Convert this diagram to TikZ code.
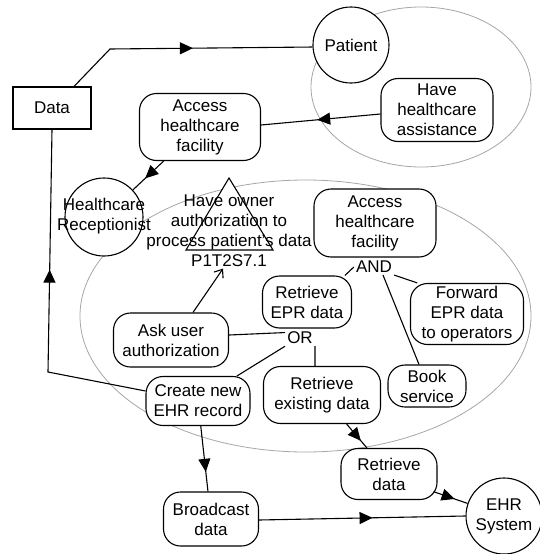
\documentclass[tikz,border=0pt]{standalone}
\usepackage{fontspec}
\setmainfont{Liberation Sans}
\usetikzlibrary{arrows.meta, decorations.markings, shapes.geometric, calc}

\tikzset{
  lbl/.style={font=\fontsize{17}{20}\selectfont, align=center},
  box/.style={draw, line width=1.1pt, fill=white, rounded corners=17pt, inner sep=0pt, lbl},
  rect/.style={draw, line width=1.1pt, fill=white, inner sep=0pt, lbl},
  actor/.style={draw, circle, line width=1.1pt, fill=white, inner sep=0pt, minimum size=76pt, lbl},
  group/.style={draw=black!35, line width=0.8pt, ellipse, inner sep=0pt},
  link/.style={line width=1.1pt},
  midarrow/.style={postaction={decorate}, decoration={markings,
      mark=at position #1 with {\arrow{Triangle[length=13pt,width=12pt]}}}},
}

\begin{document}
\begin{tikzpicture}[x=1pt, y=-1pt]
\useasboundingbox (0,0) rectangle (540,554);

% boundaries of the two actors
\node[group, minimum width=220pt, minimum height=160pt] (zone1) at (421,87) {};
\node[group, minimum width=451pt, minimum height=272pt] (zone2) at (305.5,316) {};

% resource, actors and goals
\node[rect, minimum width=78pt, minimum height=42pt] (data) at (52,108) {Data};
\node[actor] (patient) at (351,45) {Patient};
\node[box, minimum width=112pt, minimum height=63pt] (hha) at (437,110) {Have\\healthcare\\assistance};
\node[box, minimum width=121pt, minimum height=67pt] (ahf1) at (200,127) {Access\\healthcare\\facility};
\node[actor, minimum size=78pt] (recep) at (104,217) {};
\node[lbl] (recepT) at (104,216) {Healthcare\\Receptionist};

% softgoal triangle with its label
\draw[link, fill=white] (229,178) -- (273,250) -- (186,250) -- cycle;
\node[lbl, inner sep=2pt] (goal) at (229,230.5) {Have owner\\authorization to\\process patient's data\\P1T2S7.1};

\node[box, minimum width=122pt, minimum height=68pt] (ahf2) at (375,223) {Access\\healthcare\\facility};
\node[lbl, inner sep=2pt] (and) at (374,267) {AND};
\node[box, minimum width=89pt, minimum height=52pt] (epr) at (307,302) {Retrieve\\EPR data};
\node[box, minimum width=113pt, minimum height=61pt] (fwd) at (467,314) {Forward\\EPR data\\to operators};
\node[box, minimum width=115pt, minimum height=54pt] (ask) at (171,340) {Ask user\\authorization};
\node[lbl, inner sep=2pt] (or) at (300,338) {OR};
\node[box, minimum width=104pt, minimum height=49pt] (create) at (198,401) {Create new\\EHR record};
\node[box, minimum width=117pt, minimum height=57pt] (existing) at (322,395) {Retrieve\\existing data};
\node[box, minimum width=78pt, minimum height=42pt] (book) at (427,386) {Book\\service};
\node[box, minimum width=96pt, minimum height=51pt] (retr) at (389,474) {Retrieve\\data};
\node[box, minimum width=95pt, minimum height=54pt] (broad) at (211,519) {Broadcast\\data};
\node[actor] (ehr) at (504,516) {EHR\\System};

% bends of routed connectors
\coordinate (bend1) at (110,49);
\coordinate (bend2) at (48,372);

% dependencies
\draw[link, midarrow=0.53] ([xshift=22pt]data.north) -- (bend1) -- (patient.183);
\draw[link, midarrow=0.53] ([yshift=-4pt]hha.west) -- ([yshift=2pt]ahf1.east);
\draw[link, midarrow=0.6] (ahf1) -- (recep);
\draw[link, midarrow=0.59] ([yshift=10pt]create.west) -- (bend2) -- (data.south);
\draw[link, midarrow=0.7] (existing) -- (retr);
\draw[link, midarrow=0.62] ([xshift=-4pt]retr.-20) -- (ehr);
\draw[link, midarrow=0.7] (create) -- (broad);
\draw[link, midarrow=0.55] ([yshift=-1pt]broad.east) -- (ehr.west);

% contribution
\draw[link, -{Straight Barb[length=7pt,width=11pt]}] ([xshift=22pt]ask.north) -- ([xshift=-6pt]goal.south);

% decompositions
\draw[link] (and.west) -- (epr.35);
\draw[link] (and.south east) -- (fwd.148);
\draw[link] ([xshift=9pt]and.south) -- ([xshift=-8pt]book.north);
\draw[link] (or.160) -- ([yshift=5pt]ask.east);
\draw[link] (or.south west) -- ([xshift=39pt]create.north);
\draw[link] (or.south east) -- ([xshift=-7pt]existing.north);
\end{tikzpicture}
\end{document}
